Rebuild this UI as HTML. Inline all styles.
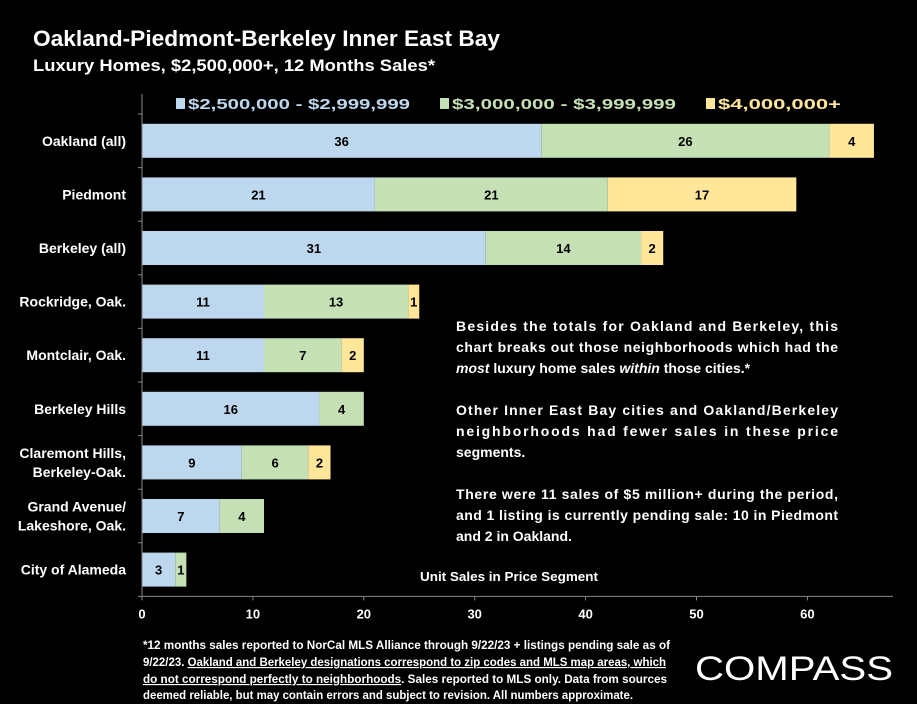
<!DOCTYPE html>
<html><head><meta charset="utf-8"><style>
html,body{margin:0;padding:0;background:#000;}
svg{display:block;font-family:"Liberation Sans",sans-serif;font-weight:bold;}
</style></head><body>
<svg id="chart" width="917" height="704" viewBox="0 0 917 704" xmlns="http://www.w3.org/2000/svg">
<rect width="917" height="704" fill="#000"/>
<text x="33" y="46" fill="#fff" font-size="22" textLength="467" lengthAdjust="spacingAndGlyphs">Oakland-Piedmont-Berkeley Inner East Bay</text>
<text x="33" y="71" fill="#fff" font-size="17" textLength="402" lengthAdjust="spacingAndGlyphs">Luxury Homes, $2,500,000+, 12 Months Sales*</text>
<g>
<g><rect x="176" y="98" width="9" height="11" fill="#bdd7ee"/><text x="188" y="109" fill="#bdd7ee" font-size="15" textLength="222" lengthAdjust="spacingAndGlyphs">$2,500,000 - $2,999,999</text></g>
<g><rect x="440" y="98" width="9" height="11" fill="#c5e0b4"/><text x="452" y="109" fill="#c5e0b4" font-size="15" textLength="224" lengthAdjust="spacingAndGlyphs">$3,000,000 - $3,999,999</text></g>
<g><rect x="706" y="98" width="9" height="11" fill="#ffe699"/><text x="718" y="109" fill="#ffe699" font-size="15" textLength="123" lengthAdjust="spacingAndGlyphs">$4,000,000+</text></g>
</g>
<g id="plot"></g>
<text x="509" y="581" fill="#fff" font-size="13" text-anchor="middle" textLength="178" lengthAdjust="spacingAndGlyphs">Unit Sales in Price Segment</text>
<g fill="#fff" font-size="14">
<text x="456" y="331" textLength="382" lengthAdjust="spacing">Besides the totals for Oakland and Berkeley, this</text>
<text x="456" y="352" textLength="382" lengthAdjust="spacing">chart breaks out those neighborhoods which had the</text>
<text x="456" y="373"><tspan font-style="italic">most</tspan> luxury home sales <tspan font-style="italic">within</tspan> those cities.*</text>
<text x="456" y="415" textLength="382" lengthAdjust="spacing">Other Inner East Bay cities and Oakland/Berkeley</text>
<text x="456" y="436" textLength="382" lengthAdjust="spacing">neighborhoods had fewer sales in these price</text>
<text x="456" y="457">segments.</text>
<text x="456" y="499" textLength="382" lengthAdjust="spacing">There were 11 sales of $5 million+ during the period,</text>
<text x="456" y="520" textLength="382" lengthAdjust="spacing">and 1 listing is currently pending sale: 10 in Piedmont</text>
<text x="456" y="541">and 2 in Oakland.</text>
</g>
<g fill="#fff" font-size="11.5">
<text x="143" y="649" textLength="527" lengthAdjust="spacingAndGlyphs">*12 months sales reported to NorCal MLS Alliance through 9/22/23 + listings pending sale as of</text>
<text x="143" y="666" textLength="523" lengthAdjust="spacingAndGlyphs">9/22/23. <tspan text-decoration="underline">Oakland and Berkeley designations correspond to zip codes and MLS map areas, which</tspan></text>
<text x="143" y="683" textLength="524" lengthAdjust="spacingAndGlyphs"><tspan text-decoration="underline">do not correspond perfectly to neighborhoods</tspan>. Sales reported to MLS only. Data from  sources</text>
<text x="143" y="699" textLength="490" lengthAdjust="spacingAndGlyphs">deemed reliable, but may contain errors and subject to revision. All numbers approximate.</text>
</g>
<text x="695" y="680" fill="#fff" font-size="34" font-weight="normal" textLength="198" lengthAdjust="spacingAndGlyphs">COMPASS</text>
<script>
const categories=["Oakland (all)","Piedmont","Berkeley (all)","Rockridge, Oak.","Montclair, Oak.","Berkeley Hills","Claremont Hills,|Berkeley-Oak.","Grand Avenue/|Lakeshore, Oak.","City of Alameda"];
const seriesLow=[36,21,31,11,11,16,9,7,3];
const seriesMid=[26,21,14,13,7,4,6,4,1];
const seriesHigh=[4,17,2,1,2,0,2,0,0];
const xTicks=[0,10,20,30,40,50,60];
const colors=["#bdd7ee","#c5e0b4","#ffe699"];
const NS="http://www.w3.org/2000/svg";
const plot=document.getElementById("plot");
const x0=142,xs=11.09;
const X=v=>x0+v*xs;
const top0=114,rowH=53.6,barH=34;
const Y=i=>top0+i*rowH+(rowH-barH)/2;
function mk(t,a){const e=document.createElementNS(NS,t);for(const k in a)e.setAttribute(k,a[k]);plot.appendChild(e);return e;}
categories.forEach((c,i)=>{
  const y=Y(i);
  const lab=mk("text",{x:126,fill:"#fff","font-size":14,"text-anchor":"end"});
  
  
  const parts=c.split("|");
  parts.forEach((p,j)=>{const ts=document.createElementNS(NS,"tspan");ts.setAttribute("x",126);ts.setAttribute("y",y+barH/2+5+(j-(parts.length-1)/2)*19);ts.textContent=p;lab.appendChild(ts);});
  let acc=0;
  [seriesLow[i],seriesMid[i],seriesHigh[i]].forEach((v,s)=>{
    if(v<=0)return;
    const r=mk("rect",{x:X(acc),y:y,width:X(acc+v)-X(acc),height:barH,fill:colors[s]});
    
    
    const t=mk("text",{x:(X(acc)+X(acc+v))/2,y:y+barH/2+5,fill:"#000","font-size":13,"text-anchor":"middle"});
    
    
    t.textContent=v;
    acc+=v;
  });
});
const yBottom=top0+categories.length*rowH;
const ax=mk("line",{x1:x0,y1:top0-20,x2:x0,y2:yBottom,stroke:"#888","stroke-width":1});


const bx=mk("line",{x1:x0,y1:yBottom,x2:893,y2:yBottom,stroke:"#888","stroke-width":1});


for(let i=0;i<=categories.length;i++){mk("line",{x1:x0-4,y1:top0+i*rowH,x2:x0,y2:top0+i*rowH,stroke:"#888"});}
xTicks.forEach(v=>{
  mk("line",{x1:X(v),y1:yBottom,x2:X(v),y2:yBottom+4,stroke:"#888"});
  const t=mk("text",{x:X(v),y:yBottom+22,fill:"#fff","font-size":13,"text-anchor":"middle"});
  
  
  t.textContent=v;
});
</script>
</svg>
</body></html>
